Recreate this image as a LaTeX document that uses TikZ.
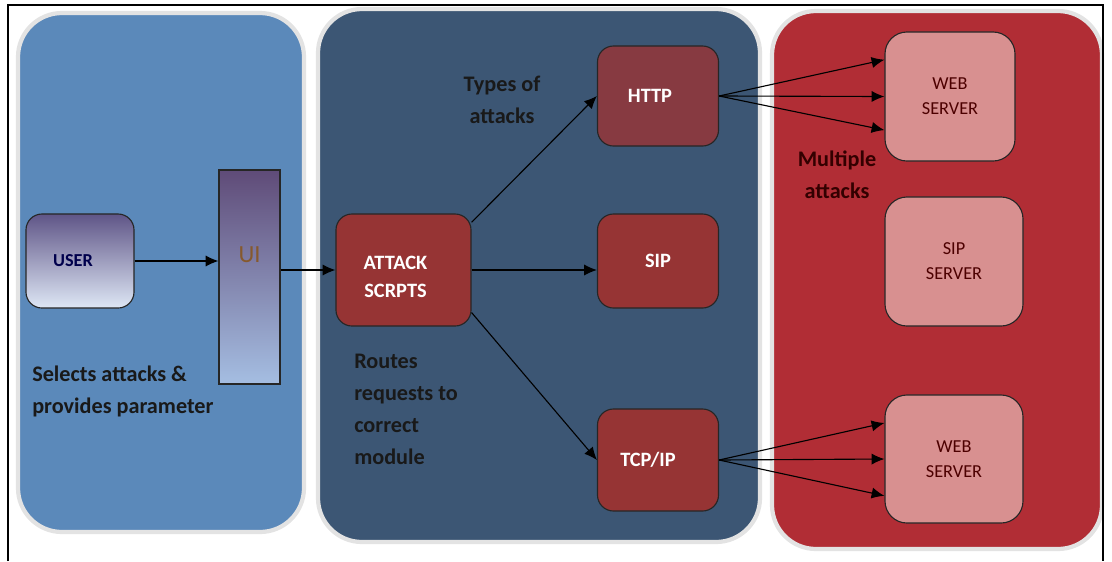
\documentclass[tikz,border=0pt]{standalone}
\usepackage{fontspec}
\setmainfont{Carlito}
\usetikzlibrary{arrows.meta}

\definecolor{userblue}{RGB}{91,137,186}
\definecolor{routenavy}{RGB}{60,86,116}
\definecolor{targetred}{RGB}{177,45,53}
\definecolor{modred}{RGB}{150,52,52}
\definecolor{httpred}{RGB}{135,58,65}
\definecolor{serverpink}{RGB}{216,144,144}
\definecolor{userpurple}{RGB}{95,85,135}
\definecolor{userlight}{RGB}{222,231,245}
\definecolor{uipurple}{RGB}{95,75,120}
\definecolor{uilight}{RGB}{165,190,226}

\begin{document}
\begin{tikzpicture}[x=0.025cm, y=-0.025cm,
	panel/.style={draw=gray!22, line width=3pt, rounded corners=1.1cm},
	module/.style={draw=black!85, thick, rounded corners=0.4cm, fill=modred,
		text=white, font=\fontsize{14.5}{20}\selectfont\bfseries, align=center},
	server/.style={draw=black!85, thick, rounded corners=0.55cm, fill=serverpink,
		text=black!70!red, font=\fontsize{13}{17.7}\selectfont, align=center},
	note/.style={inner sep=0pt, text=black!90, font=\fontsize{15.8}{22.7}\selectfont\bfseries},
	>={Latex[length=3.2mm,width=2.8mm]}]
	\useasboundingbox (0,0) rectangle (1112,561);

	% Draw the three panels
	\draw[panel, fill=userblue] (18,13) rectangle (304,532);
	\draw[panel, fill=routenavy] (318,9) rectangle (760,542);
	\draw[panel, fill=targetred] (772,11) rectangle (1102,549);

	% Draw the outer frame
	\draw[line width=1pt] (8,561) |- (1103,5) -- (1103,561);

	% User side
	\node[draw=black!85, thick, rounded corners=0.4cm, top color=userpurple, bottom color=userlight,
		minimum width=2.7cm, minimum height=2.35cm, text=blue!30!black,
		font=\fontsize{13}{17}\selectfont\bfseries] (user) at (80,261) {USER\hspace*{0.35cm}\mbox{}};
	\node[draw=black!85, thick, top color=uipurple, bottom color=uilight,
		minimum width=1.525cm, minimum height=5.35cm,
		label={[yshift=0.55cm, text=brown!70!black, font=\fontsize{17.5}{20}\selectfont]center:UI}] (ui) at (249.5,277) {};
	\node[note, anchor=west, align=left] (selects) at (32,391) {Selects attacks \&\\provides parameter};

	% Attack modules
	\node[module, minimum width=3.375cm, minimum height=2.8cm] (attack) at (403.5,270) {\raisebox{-0.33cm}[0pt][0pt]{\begin{tabular}{@{}c@{}}ATTACK\\SCRPTS\end{tabular}}\hspace{0.4cm}};
	\node[module, fill=httpred, minimum width=3.025cm, minimum height=2.5cm] (http) at (658,96) {HTTP\hspace{0.4cm}};
	\node[module, minimum width=3.025cm, minimum height=2.35cm] (sip) at (658,261) {SIP};
	\node[module, minimum width=3.025cm, minimum height=2.55cm] (tcp) at (658,460) {TCP/IP\hspace{0.5cm}};
	\node[note, align=center] (types) at (502,100) {Types of\\attacks};
	\node[note, anchor=west, align=left] (routes) at (354,409) {Routes\\requests to\\correct\\module};

	% Servers
	\node[server, minimum width=3.25cm, minimum height=3.225cm] (web1) at (950,96.5) {WEB\\SERVER\hspace{0.2cm}};
	\node[server, minimum width=3.45cm, minimum height=3.225cm] (sipserver) at (954,261.5) {SIP\\SERVER\hspace{0.2cm}};
	\node[server, minimum width=3.45cm, minimum height=3.2cm] (web2) at (954,459) {WEB\\SERVER\hspace{0.2cm}};
	\node[note, align=center, text=red!20!black] (multiple) at (837,175) {Multiple\\attacks};

	% Arrows
	\draw[->, thick] (user.east) -- (user.east -| ui.west);
	\draw[->, thick] (ui.east |- attack.west) -- (attack.west);
	\draw[->, thick] (attack.35) -- (http.west);
	\draw[->, thick] (attack.east) -- (attack.east -| sip.west);
	\draw[->, thick] (attack.-32) -- (tcp.west);
	\foreach \dy in {0.92,0,-0.84}
		\draw[->, thick] (http.east) -- ([yshift=\dy cm]web1.west);
	\foreach \dy in {0.9,0,-0.92}
		\draw[->, thick] (tcp.east) -- ([yshift=\dy cm]web2.west);
\end{tikzpicture}
\end{document}
